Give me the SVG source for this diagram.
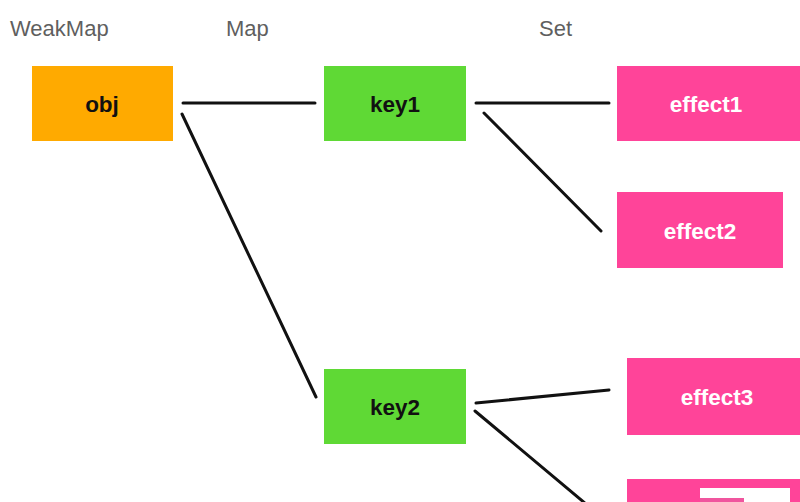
<svg xmlns="http://www.w3.org/2000/svg" width="800" height="502" viewBox="0 0 800 502">
<style>
.hdr{font-family:"Liberation Sans",Arial,sans-serif;font-size:22px;fill:#5f5f5f}
.lbl{font-family:"Liberation Sans",Arial,sans-serif;font-size:22.5px;font-weight:bold;text-anchor:middle}
.dark{fill:#111}
.light{fill:#fff}
.obj{fill:#FFAA00}
.key{fill:#5FD935}
.eff{fill:#FF4499}
.con{stroke:#111;stroke-width:3;stroke-linecap:round;fill:none}
</style>
<rect width="800" height="502" fill="#fff"/>
<text class="hdr" x="10" y="36">WeakMap</text>
<text class="hdr" x="226" y="36">Map</text>
<text class="hdr" x="539" y="36">Set</text>
<g id="connectors">
<line class="con" x1="183" y1="103" x2="315" y2="103"/>
<line class="con" x1="182" y1="114" x2="316" y2="397"/>
<line class="con" x1="476" y1="103" x2="609" y2="103"/>
<line class="con" x1="484" y1="113" x2="601" y2="231"/>
<line class="con" x1="476" y1="403" x2="609" y2="390"/>
<line class="con" x1="475" y1="411" x2="586" y2="504"/>
</g>
<g id="obj"><rect class="obj" x="32" y="66" width="141" height="75"/><text class="lbl dark" x="102" y="112">obj</text></g>
<g id="key1"><rect class="key" x="324" y="66" width="142" height="75"/><text class="lbl dark" x="395" y="112">key1</text></g>
<g id="key2"><rect class="key" x="324" y="369" width="142" height="75"/><text class="lbl dark" x="395" y="415">key2</text></g>
<g id="effect1"><rect class="eff" x="617" y="66" width="190" height="75"/><text class="lbl light" x="706" y="112">effect1</text></g>
<g id="effect2"><rect class="eff" x="617" y="192" width="166" height="76"/><text class="lbl light" x="700" y="239">effect2</text></g>
<g id="effect3"><rect class="eff" x="627" y="358" width="180" height="77"/><text class="lbl light" x="717" y="405">effect3</text></g>
<g id="effect4"><rect class="eff" x="627" y="479" width="180" height="30"/><rect x="700" y="488" width="90" height="20" fill="#fff"/><rect x="700" y="498" width="44" height="6" fill="#F0559E"/></g>
</svg>
